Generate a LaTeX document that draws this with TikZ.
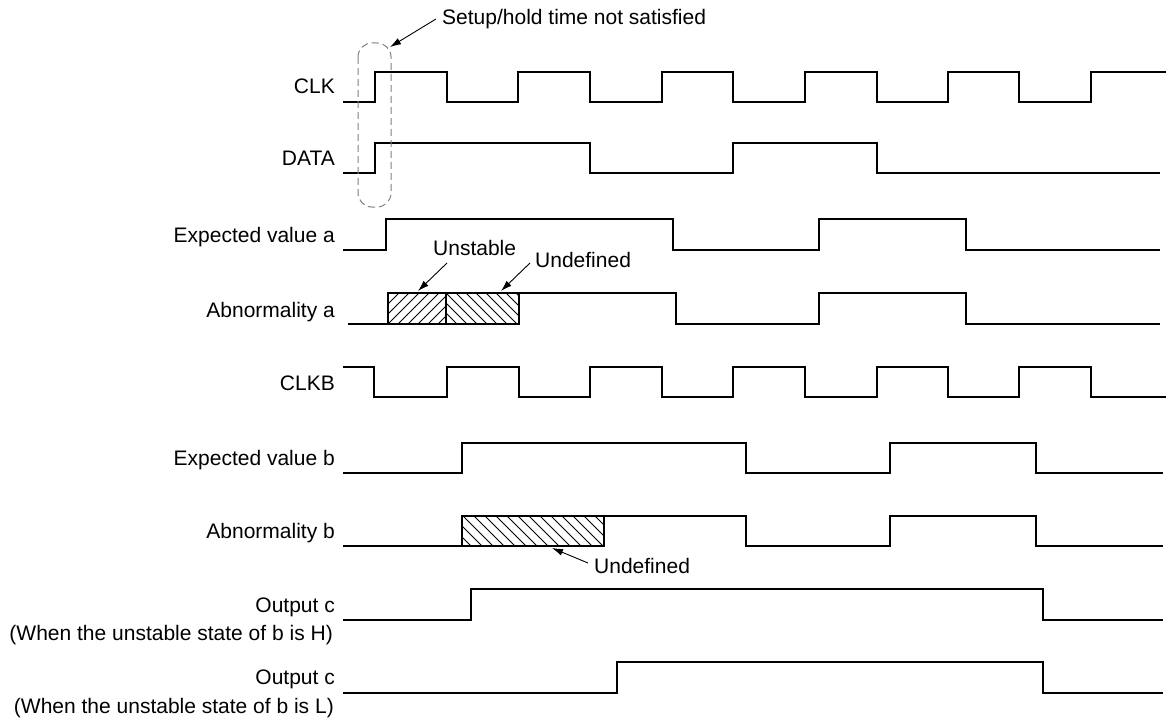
\documentclass[tikz,border=0pt]{standalone}
\usepackage{fontspec}
\setmainfont{Liberation Sans}
\usetikzlibrary{arrows.meta}
\begin{document}
\begin{tikzpicture}[x=1pt,y=-1pt,
  wave/.style={line width=2.2pt, line join=miter, line cap=butt},
  lbl/.style={inner sep=0pt, font=\fontsize{21}{25}\selectfont, anchor=base east},
  note/.style={inner sep=0pt, font=\fontsize{21}{25}\selectfont, anchor=base west},
  hatch/.style={line width=0.8pt},
  callout/.style={line width=0.9pt, -{Latex[length=11pt,width=7pt]}}]
\useasboundingbox[fill=white] (0,0) rectangle (1166,722);

% ---------- signal labels ----------
\node[lbl] (lclk)  at (335,94)  {CLK};
\node[lbl] (ldata) at (335,166) {DATA};
\node[lbl] (lexa)  at (335,242) {Expected value a};
\node[lbl] (labna) at (335,317) {Abnormality a};
\node[lbl] (lclkb) at (335,390) {CLKB};
\node[lbl] (lexb)  at (335,465) {Expected value b};
\node[lbl] (labnb) at (335,538) {Abnormality b};
\node[lbl] (loch)  at (335,612) {Output c};
\node[lbl] (loch2) at (333,640) {(When the unstable state of b is H)};
\node[lbl] (locl)  at (335,684) {Output c};
\node[lbl] (locl2) at (334,713) {(When the unstable state of b is L)};

% ---------- waveforms ----------
% CLK
\draw[wave] (343,102) -- (375,102) -- (375,72) -- (447,72) -- (447,102) -- (518,102) -- (518,72) -- (590,72) -- (590,102) -- (662,102) -- (662,72) -- (733,72) -- (733,102) -- (805,102) -- (805,72) -- (877,72) -- (877,102) -- (948,102) -- (948,72) -- (1019,72) -- (1019,102) -- (1091,102) -- (1091,72) -- (1166,72);
% DATA
\draw[wave] (343,173) -- (375,173) -- (375,143) -- (590,143) -- (590,173) -- (733,173) -- (733,143) -- (877,143) -- (877,173) -- (1160,173);
% Expected value a
\draw[wave] (343,250) -- (386,250) -- (386,219) -- (673,219) -- (673,250) -- (819,250) -- (819,219) -- (966,219) -- (966,250) -- (1160,250);
% Abnormality a
\draw[wave] (348,324) -- (388,324);
\draw[wave] (519,293) -- (676,293) -- (676,324) -- (819,324) -- (819,293) -- (966,293) -- (966,324) -- (1160,324);
\begin{scope}
  \clip (388,293) rectangle (446,324);
  \foreach \x in {348,358,...,448} \draw[hatch] (\x,324) -- (\x+31,293);
\end{scope}
\begin{scope}
  \clip (446,293) rectangle (519,324);
  \foreach \x in {416,426,...,520} \draw[hatch] (\x,293) -- (\x+31,324);
\end{scope}
\draw[wave] (388,293) rectangle (519,324);
\draw[wave] (446,293) -- (446,324);
% CLKB
\draw[wave] (343,367) -- (374,367) -- (374,397) -- (447,397) -- (447,367) -- (519,367) -- (519,397) -- (590,397) -- (590,367) -- (662,367) -- (662,397) -- (733,397) -- (733,367) -- (805,367) -- (805,397) -- (877,397) -- (877,367) -- (948,367) -- (948,397) -- (1019,397) -- (1019,367) -- (1091,367) -- (1091,397) -- (1166,397);
% Expected value b
\draw[wave] (343,473) -- (462,473) -- (462,443) -- (746,443) -- (746,473) -- (890,473) -- (890,443) -- (1036,443) -- (1036,473) -- (1163,473);
% Abnormality b
\draw[wave] (343,546) -- (462,546);
\draw[wave] (604,516) -- (746,516) -- (746,546) -- (890,546) -- (890,516) -- (1036,516) -- (1036,546) -- (1163,546);
\begin{scope}
  \clip (462,516) rectangle (604,546);
  \foreach \x in {430,441,...,606} \draw[hatch] (\x,516) -- (\x+30,546);
\end{scope}
\draw[wave] (462,516) rectangle (604,546);
% Output c (H)
\draw[wave] (343,620) -- (471,620) -- (471,589) -- (1043,589) -- (1043,620) -- (1163,620);
% Output c (L)
\draw[wave] (343,693) -- (617,693) -- (617,662) -- (1043,662) -- (1043,693) -- (1163,693);

% ---------- annotations ----------
\draw[gray, line width=1pt, dash pattern=on 7pt off 4pt, rounded corners=14pt] (358,43) rectangle (391,207);
\node[note] (setup) at (442,25) {Setup/hold time not satisfied};
\node[note] (unst)  at (433,255) {Unstable};
\node[note] (unda)  at (535,267) {Undefined};
\node[note] (undb)  at (594,573) {Undefined};

\coordinate (setupS) at (436,19);  \coordinate (setupE) at (390,47);
\coordinate (unstS)  at (447,263); \coordinate (unstE)  at (418,291);
\coordinate (undaS)  at (530,263); \coordinate (undaE)  at (501,291);
\coordinate (undbS)  at (588,563); \coordinate (undbE)  at (552,548);
\draw[callout] (setupS) -- (setupE);
\draw[callout] (unstS) -- (unstE);
\draw[callout] (undaS) -- (undaE);
\draw[callout] (undbS) -- (undbE);
\end{tikzpicture}
\end{document}
